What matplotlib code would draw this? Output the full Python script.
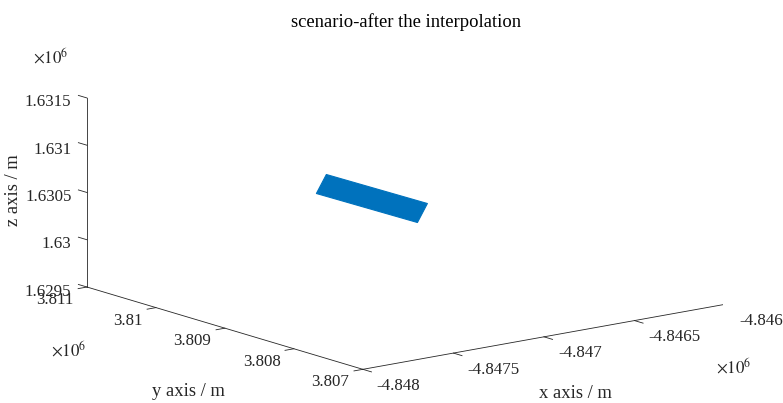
import numpy as np
import matplotlib
matplotlib.use("Agg")
import matplotlib.pyplot as plt
from matplotlib.transforms import offset_copy
from mpl_toolkits.mplot3d import proj3d

plt.rcParams["font.family"] = ["Liberation Serif", "DejaVu Serif"]
plt.rcParams["mathtext.fontset"] = "stix"

# axis ranges (m)
x_lim = (-4.848e6, -4.846e6)
y_lim = (3.807e6, 3.811e6)
z_lim = (1.6295e6, 1.6315e6)

x_ticks = [-4.848e6, -4.8475e6, -4.847e6, -4.8465e6, -4.846e6]
x_tick_labels = ["-4.848", "-4.8475", "-4.847", "-4.8465", "-4.846"]
y_ticks = [3.807e6, 3.808e6, 3.809e6, 3.810e6, 3.811e6]
y_tick_labels = ["3.807", "3.808", "3.809", "3.81", "3.811"]
z_ticks = [1.6295e6, 1.630e6, 1.6305e6, 1.631e6, 1.6315e6]
z_tick_labels = ["1.6295", "1.63", "1.6305", "1.631", "1.6315"]

# interpolated scenario surface (corner grid)
surf_x = [-4846892.0, -4846837.0]
surf_y = [3810590.0, 3809125.0]
surf_z = [[1630203.0, 1630385.0],
          [1630215.0, 1630397.0]]

W, H = 783, 403
AX_COLOR = "#262626"
TICK_FS = 12.2
LABEL_FS = 13.4

fig = plt.figure(figsize=(W / 100, H / 100), dpi=100)
ax = fig.add_axes([0.1, 0.0, 0.8, 0.8 * W / H], projection="3d",
                  proj_type="ortho")
ax.view_init(elev=13.38, azim=-127.8)
ax.set_box_aspect((1.0, 0.982, 0.424))
ax.set_xlim(*x_lim)
ax.set_ylim(*y_lim)
ax.set_zlim(*z_lim)
ax.set_axis_off()

# surface
X, Y = np.meshgrid(surf_x, surf_y)
Z = np.array(surf_z)
ax.plot_surface(X, Y, Z, color="#0072BD", shade=False,
                edgecolor="#0072BD", linewidth=0.8, antialiased=True)

x0, x1 = x_lim
y0, y1 = y_lim
z0, z1 = z_lim

# axis lines
ax.plot([x0, x1], [y0, y0], [z0, z0], color=AX_COLOR, lw=0.6)
ax.plot([x0, x0], [y0, y1], [z0, z0], color=AX_COLOR, lw=0.6)
ax.plot([x0, x0], [y1, y1], [z0, z1], color=AX_COLOR, lw=0.6)

# tick marks, pointing outward from the box
for xt in x_ticks:
    ax.plot([xt, xt], [y0, y0 - 125], [z0, z0], color=AX_COLOR, lw=0.6)
for yt in y_ticks:
    ax.plot([x0, x0 - 49], [yt, yt], [z0, z0], color=AX_COLOR, lw=0.6)
for zt in z_ticks:
    ax.plot([x0, x0], [y1, y1 + 125], [zt, zt], color=AX_COLOR, lw=0.6)


def shifted(dx, dy):
    return offset_copy(ax.transData, x=dx, y=dy, units="dots")


for xt, lab in zip(x_ticks, x_tick_labels):
    ax.text(xt, y0, z0, lab, transform=shifted(14, -16.5), ha="left",
            va="center", fontsize=TICK_FS, color=AX_COLOR)
for yt, lab in zip(y_ticks, y_tick_labels):
    ax.text(x0, yt, z0, lab, transform=shifted(-13.5, -13), ha="right",
            va="center", fontsize=TICK_FS, color=AX_COLOR)
for zt, lab in zip(z_ticks, z_tick_labels):
    ax.text(x0, y1, zt, lab, transform=shifted(-15.5, -4.5), ha="right",
            va="center", fontsize=TICK_FS, color=AX_COLOR)

# place the 3D box so its frame corners land at fixed pixel positions
fig.canvas.draw()


def to_px(x, y, z):
    xs, ys, _ = proj3d.proj_transform(x, y, z, ax.get_proj())
    return np.array(ax.transData.transform((xs, ys)))


pos = ax.get_position()
side = pos.width * W
org = np.array([pos.x0 * W, pos.y0 * H])
na = (to_px(x0, y1, z1) - org) / side
nb = (to_px(x1, y0, z0) - org) / side
ta = np.array([87.0, H - 98.0])
tb = np.array([725.0, H - 304.3])
new_side = (tb[0] - ta[0]) / (nb[0] - na[0])
new_org = 0.5 * ((ta - na * new_side) + (tb - nb * new_side))
ax.set_position([new_org[0] / W, new_org[1] / H, new_side / W, new_side / H])


def px_text(px, py, s, **kw):
    fig.text(px / W, 1 - py / H, s, ha="center", va="center", **kw)


px_text(406, 22, "scenario-after the interpolation", fontsize=LABEL_FS,
        color="black")
px_text(575, 394, "x axis / m", fontsize=LABEL_FS, color=AX_COLOR)
px_text(188, 392, "y axis / m", fontsize=LABEL_FS, color=AX_COLOR)
px_text(13, 190, "z axis / m", fontsize=LABEL_FS, color=AX_COLOR,
        rotation=90)
px_text(51, 57, r"$\times 10^{6}$", fontsize=TICK_FS, color=AX_COLOR)
px_text(69, 350, r"$\times 10^{6}$", fontsize=TICK_FS, color=AX_COLOR)
px_text(734, 367, r"$\times 10^{6}$", fontsize=TICK_FS, color=AX_COLOR)

fig.savefig("out.png", dpi=100, facecolor="white")
